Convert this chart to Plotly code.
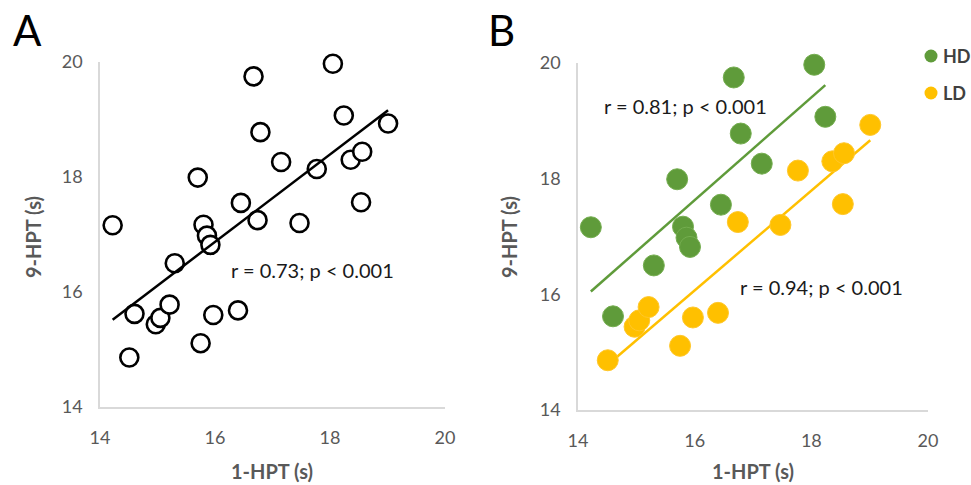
import numpy as np
import plotly.graph_objects as go

# ---- data ----
hd_x = [14.22, 14.60, 15.30, 15.70, 15.80, 15.86, 15.92, 16.45, 16.67, 16.79, 17.15, 18.05, 18.24]
hd_y = [17.16, 15.62, 16.50, 17.99, 17.17, 16.98, 16.82, 17.55, 19.75, 18.78, 18.26, 19.97, 19.07]
ld_x = [14.51, 14.97, 15.05, 15.21, 15.75, 15.97, 16.40, 16.74, 17.47, 17.77, 18.36, 18.56, 18.54, 19.01]
ld_y = [14.86, 15.44, 15.55, 15.78, 15.11, 15.60, 15.68, 17.25, 17.20, 18.14, 18.30, 18.44, 17.56, 18.93]
all_x = hd_x + ld_x
all_y = hd_y + ld_y

tick_vals = [14, 16, 18, 20]
tick_text = ["14", "16", "18", "20"]
x_title = "1-HPT (s)"
y_title = "9-HPT (s)"
stat_a = "r = 0.73; p < 0.001"
stat_hd = "r = 0.81; p < 0.001"
stat_ld = "r = 0.94; p < 0.001"
groups = ["HD", "LD"]

GREEN = "#5f9b3a"
YELLOW = "#ffc000"
FONT = "Lato, Open Sans, sans-serif"
W, H = 971, 485


def fit_line(xs, ys):
    xs = np.asarray(xs)
    ys = np.asarray(ys)
    m, b = np.polyfit(xs, ys, 1)
    xr = np.array([xs.min(), xs.max()])
    return xr, m * xr + b


fig = go.Figure()

# Panel A
fig.add_trace(go.Scatter(x=all_x, y=all_y, mode="markers", showlegend=False, cliponaxis=False,
                         marker=dict(size=18, color="white", line=dict(color="black", width=2.6)),
                         xaxis="x", yaxis="y"))
lx, ly = fit_line(all_x, all_y)
fig.add_trace(go.Scatter(x=lx, y=ly, mode="lines", showlegend=False,
                         line=dict(color="black", width=2.5), xaxis="x", yaxis="y"))

# Panel B
hx, hy = fit_line(hd_x, hd_y)
fig.add_trace(go.Scatter(x=hx, y=hy, mode="lines", showlegend=False,
                         line=dict(color=GREEN, width=2.5), xaxis="x2", yaxis="y2"))
dx, dy = fit_line(ld_x, ld_y)
fig.add_trace(go.Scatter(x=dx, y=dy, mode="lines", showlegend=False,
                         line=dict(color=YELLOW, width=2.5), xaxis="x2", yaxis="y2"))
fig.add_trace(go.Scatter(x=hd_x, y=hd_y, mode="markers", name=groups[0], showlegend=False,
                         cliponaxis=False,
                         marker=dict(size=21, color=GREEN, line=dict(color="#74ad4f", width=1)),
                         xaxis="x2", yaxis="y2"))
fig.add_trace(go.Scatter(x=ld_x, y=ld_y, mode="markers", name=groups[1], showlegend=False,
                         cliponaxis=False,
                         marker=dict(size=21, color=YELLOW, line=dict(color="#ffc72a", width=1)),
                         xaxis="x2", yaxis="y2"))

axis_common = dict(range=[14, 20], tickvals=tick_vals, ticktext=tick_text, automargin=False,
                   showgrid=False, zeroline=False, showline=True, linecolor="#d9d9d9",
                   linewidth=1.5, ticks="", tickfont=dict(family=FONT, size=18, color="#595959"),
                   fixedrange=True)

fig.update_layout(
    width=W, height=H,
    margin=dict(l=0, r=0, t=0, b=0, autoexpand=False),
    paper_bgcolor="white", plot_bgcolor="white",
    font=dict(family=FONT),
    showlegend=False,
    xaxis=dict(domain=[100 / W, 445 / W], anchor="y", ticklabelstandoff=14, **axis_common),
    yaxis=dict(domain=[1 - 407 / H, 1 - 62 / H], anchor="x", ticklabelstandoff=12, **axis_common),
    xaxis2=dict(domain=[578 / W, 928 / W], anchor="y2", ticklabelstandoff=14, **axis_common),
    yaxis2=dict(domain=[1 - 410 / H, 1 - 63 / H], anchor="x2", ticklabelstandoff=12, **axis_common),
)

ann = []
shapes = []
# Panel letters
ann.append(dict(text="A", x=11 / W, y=1 - 30 / H, xref="paper", yref="paper", xanchor="left",
                yanchor="middle", showarrow=False, font=dict(family=FONT, size=42, color="black")))
ann.append(dict(text="B", x=486 / W, y=1 - 30 / H, xref="paper", yref="paper", xanchor="left",
                yanchor="middle", showarrow=False, font=dict(family=FONT, size=42, color="black")))
# axis titles
for cx in [272 / W, 753 / W]:
    ann.append(dict(text=x_title, x=cx, y=1 - 471 / H, xref="paper", yref="paper",
                    xanchor="center", yanchor="middle", showarrow=False,
                    font=dict(family=FONT, size=20, color="#595959", weight="bold")))
for cx in [33 / W, 509 / W]:
    ann.append(dict(text=y_title, x=cx, y=1 - 237 / H, xref="paper", yref="paper", textangle=-90,
                    xanchor="center", yanchor="middle", showarrow=False,
                    font=dict(family=FONT, size=20, color="#595959", weight="bold")))
# stats
for txt, px, py in [(stat_a, 229, 270), (stat_hd, 602, 106), (stat_ld, 738, 287)]:
    ann.append(dict(text=txt, x=px / W, y=1 - py / H, xref="paper", yref="paper",
                    xanchor="left", yanchor="middle", showarrow=False,
                    font=dict(family=FONT, size=20, color="#1a1a1a")))
# legend (manual)
for name, col, cy in [(groups[0], GREEN, 56), (groups[1], YELLOW, 93)]:
    cxp = 931
    r = 6.5
    shapes.append(dict(type="circle", xref="paper", yref="paper",
                       x0=(cxp - r) / W, x1=(cxp + r) / W, y0=1 - (cy + r) / H, y1=1 - (cy - r) / H,
                       fillcolor=col, line=dict(color=col, width=0)))
    ann.append(dict(text=name, x=941 / W, y=1 - cy / H, xref="paper", yref="paper",
                    xanchor="left", yanchor="middle", showarrow=False,
                    font=dict(family=FONT, size=18, color="#404040", weight="bold")))
fig.update_layout(annotations=ann, shapes=shapes)

fig.write_html("out.html", config={"displayModeBar": False},
               post_script="document.body.style.margin='0px';document.body.style.overflow='hidden';")
